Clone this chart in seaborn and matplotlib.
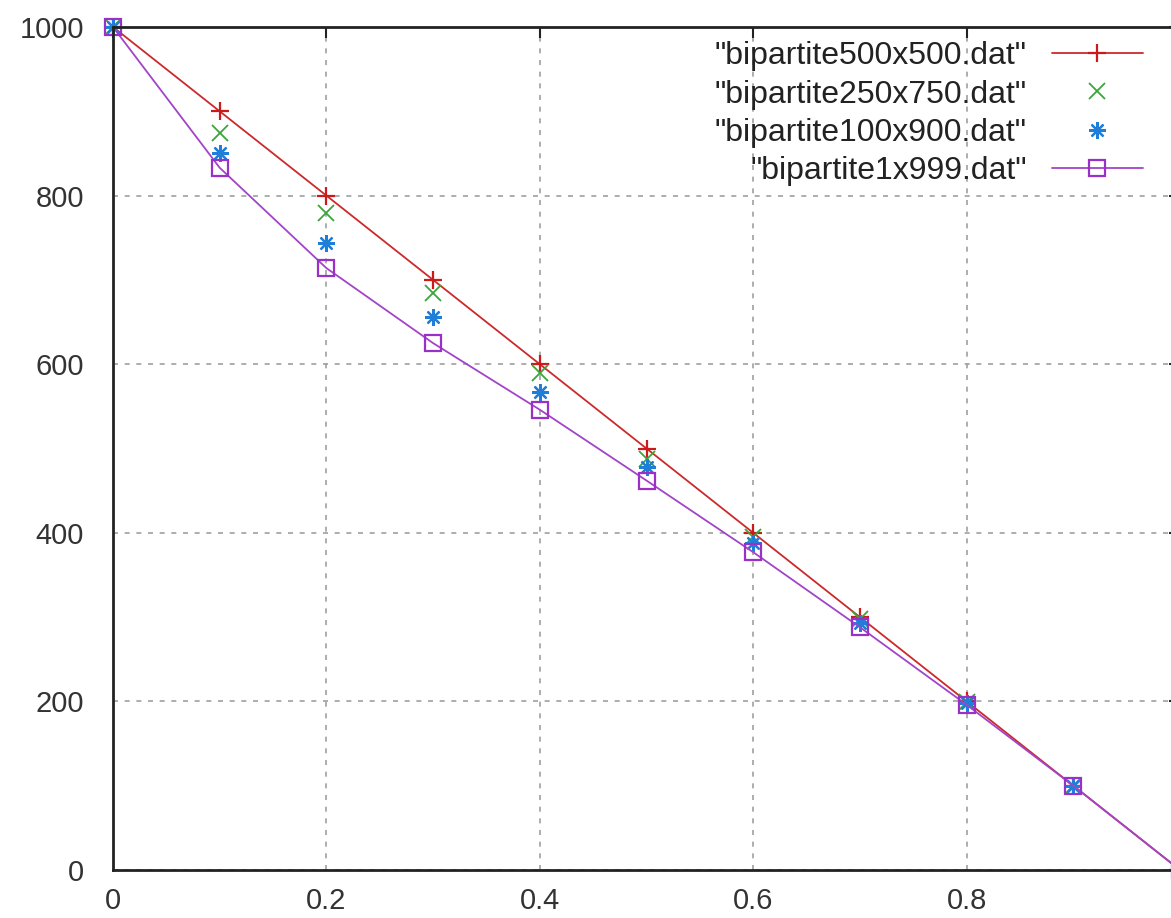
import matplotlib
matplotlib.use("Agg")
import matplotlib.pyplot as plt
import seaborn as sns

# values
x = [0.0, 0.1, 0.2, 0.3, 0.4, 0.5, 0.6, 0.7, 0.8, 0.9, 1.0]
y_500x500 = [1000, 900, 800, 700, 600, 500, 400, 300, 200, 100, 0]
y_250x750 = [1000, 874, 779, 684, 590, 487, 395, 298, 199, 100, 0]
y_100x900 = [1000, 850, 744, 656, 567, 478, 388, 293, 198, 100, 0]
y_1x999 = [1000, 833, 714, 625, 546, 462, 377, 288, 196, 100, 0]

labels = ['"bipartite500x500.dat"', '"bipartite250x750.dat"',
          '"bipartite100x900.dat"', '"bipartite1x999.dat"']
xticks = [0, 0.2, 0.4, 0.6, 0.8, 1.0]
yticks = [0, 200, 400, 600, 800, 1000]

sns.set_style("white")
plt.rcParams['font.family'] = ['Liberation Sans', 'DejaVu Sans']

fig = plt.figure(figsize=(11.71, 9.18), dpi=100)
# right edge of the plot runs off the picture, as in the reference
ax = fig.add_axes([113 / 1171, 48 / 918, 1067 / 1171, 843 / 918])

sns.lineplot(x=x, y=y_500x500, ax=ax, color="#cc2a2a", lw=1.3, marker="+",
             ms=13, mec="#cc1a1a", mew=1.6, label=labels[0], clip_on=False)
sns.lineplot(x=x, y=y_250x750, ax=ax, color="#3aa63a", linestyle="none", marker="x",
             ms=11, mec="#3aa63a", mew=1.3, label=labels[1], clip_on=False)
sns.lineplot(x=x, y=y_100x900, ax=ax, color="#1f7fd8", linestyle="none", marker=(8, 2, 0),
             ms=12, mec="#1f7fd8", mew=1.6, label=labels[2], clip_on=False)
sns.lineplot(x=x, y=y_1x999, ax=ax, color="#a244c8", lw=1.3, marker="s",
             ms=12, mfc="none", mec="#9a30c8", mew=1.6, label=labels[3], clip_on=False)

ax.set_xlim(0, 1)
ax.set_ylim(0, 1000)
ax.set_xticks(xticks)
ax.set_yticks(yticks)
# the "1" label falls outside the picture in the reference
ax.set_xticklabels(["0", "0.2", "0.4", "0.6", "0.8", ""])
ax.grid(True, color="#a0a0a0", linestyle=(0, (3, 4)), linewidth=1.2)

for s in ax.spines.values():
    s.set_color("#222222")
    s.set_linewidth(2)

ax.tick_params(axis="both", direction="in", length=8, width=1.5, color="#222222",
               top=True, right=True, labelsize=21, labelcolor="#333333")
ax.tick_params(axis="x", pad=12)
ax.tick_params(axis="y", pad=21)

# markerfirst=False puts the sample on the right and right-aligns the rows
leg = ax.legend(loc="upper right", bbox_to_anchor=(0.965, 0.983), frameon=False,
                markerfirst=False, fontsize=23, handlelength=2.85, handletextpad=0.78,
                labelspacing=0.26, borderaxespad=0, borderpad=0)
for t in leg.get_texts():
    t.set_color("#222222")

fig.savefig("out.png", dpi=100)
